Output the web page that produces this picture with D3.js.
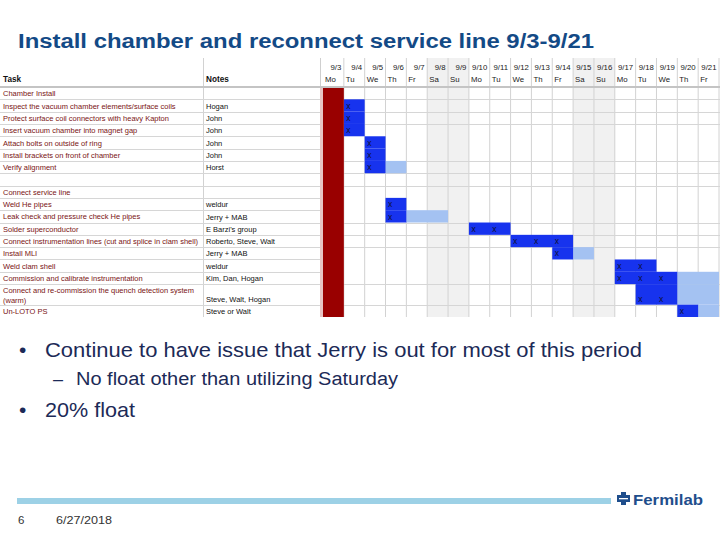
<!DOCTYPE html>
<html><head><meta charset="utf-8">
<script src="https://cdn.jsdelivr.net/npm/d3@7"></script>
<style>body{margin:0;background:#fff}svg{display:block}</style>
</head><body>
<script>
// ---- data ----
const title = "Install chamber and reconnect service line 9/3-9/21";
const tasks = ["Chamber Install","Inspect the vacuum chamber elements/surface coils","Protect surface coil connectors with heavy Kapton","Insert vacuum chamber into magnet gap","Attach bolts on outside of ring","Install brackets on front of chamber","Verify alignment","","Connect service line","Weld He pipes","Leak check and pressure check He pipes","Solder superconductor","Connect instrumentation lines (cut and splice in clam shell)","Install MLI","Weld clam shell","Commission and calibrate instrumentation","Connect and re-commission the quench detection system|(warm)","Un-LOTO PS"];
const notes = ["","Hogan","John","John","John","John","Horst","","","weldur","Jerry + MAB","E Barzi's group","Roberto, Steve, Walt","Jerry + MAB","weldur","Kim, Dan, Hogan","Steve, Walt, Hogan","Steve or Walt"];
const dates = ["9/3","9/4","9/5","9/6","9/7","9/8","9/9","9/10","9/11","9/12","9/13","9/14","9/15","9/16","9/17","9/18","9/19","9/20","9/21"];
const days = ["Mo","Tu","We","Th","Fr","Sa","Su","Mo","Tu","We","Th","Fr","Sa","Su","Mo","Tu","We","Th","Fr"];
const workStart = [null,"9/4","9/4","9/4","9/5","9/5","9/5",null,null,"9/6","9/6","9/10","9/12","9/14","9/17","9/17","9/18","9/20"];
const workDays  = [0,1,1,1,1,1,1,0,0,1,1,2,3,1,2,3,2,1];
const floatDays = [0,0,0,0,0,0,1,0,0,0,2,0,0,1,0,2,2,1];
const holiday = "9/3";
const bullets = [
  {level:1, text:"Continue to have issue that Jerry is out for most of this period"},
  {level:2, text:"No float other than utilizing Saturday"},
  {level:1, text:"20% float"}
];
const slideNumber = "6";
const slideDate = "6/27/2018";

// ---- drawing ----
const W=720,H=540;
const svg=d3.select("body").append("svg").attr("width",W).attr("height",H)
  .style("font-family","Arial, 'Liberation Sans', sans-serif");
svg.append("rect").attr("width",W).attr("height",H).attr("fill","#fff");

// title
svg.append("text").attr("x",18).attr("y",48).attr("font-size",20).attr("font-weight","bold")
  .attr("fill","#134a86").attr("textLength",576).attr("lengthAdjust","spacingAndGlyphs").text(title);

const gTop=58, hdrBot=87, gBot=317;
const x=d3.scaleBand().domain(dates).range([323,719]);
const bw=x.bandwidth();
const lines=tasks.map(t=>t.split("|"));
const units=lines.map(l=>1+0.67*(l.length-1));
const cum=[0]; units.forEach(u=>cum.push(cum[cum.length-1]+u));
const y=d3.scaleLinear().domain([0,cum[cum.length-1]]).range([hdrBot,gBot]);
const rowTop=i=>y(cum[i]), rowBot=i=>y(cum[i+1]);

const g=svg.append("g");
// weekend shading
g.selectAll(".wk").data(dates.filter((d,i)=>days[i]==="Sa"||days[i]==="Su")).join("rect")
  .attr("x",d=>x(d)).attr("y",gTop).attr("width",bw).attr("height",gBot-gTop).attr("fill","#f1f1f1");

// vertical grid lines
const vx=dates.map(d=>x(d)).concat([x(dates[dates.length-1])+bw]);
g.selectAll(".vl").data(vx.slice(1)).join("line")
  .attr("x1",d=>d).attr("x2",d=>d).attr("y1",gTop).attr("y2",gBot).attr("stroke","#d2d2d2").attr("stroke-width",1);
// table vertical line
g.append("line").attr("x1",203.5).attr("x2",203.5).attr("y1",gTop).attr("y2",gBot).attr("stroke","#d2d2d2");
g.append("line").attr("x1",320.5).attr("x2",320.5).attr("y1",gTop).attr("y2",hdrBot).attr("stroke","#cfcfcf");

// horizontal lines
const ganttSkip=new Set([4,5,9,10,14,15]);
const bounds=d3.range(1,tasks.length);
g.selectAll(".hl").data(bounds).join("line")
  .attr("x1",0).attr("x2",320).attr("y1",d=>Math.round(rowTop(d))+0.5).attr("y2",d=>Math.round(rowTop(d))+0.5)
  .attr("stroke","#d6d6d6");
g.selectAll(".hg").data(bounds.filter(b=>!ganttSkip.has(b))).join("line")
  .attr("x1",323).attr("x2",720).attr("y1",d=>Math.round(rowTop(d))+0.5).attr("y2",d=>Math.round(rowTop(d))+0.5)
  .attr("stroke","#d6d6d6");
// header line
g.append("line").attr("x1",0).attr("x2",720).attr("y1",hdrBot).attr("y2",hdrBot).attr("stroke","#c4c4c4").attr("stroke-width",2);

// bars
const idx=tasks.map((t,i)=>i).filter(i=>workStart[i]!==null);
g.selectAll(".fl").data(idx.filter(i=>floatDays[i]>0)).join("rect")
  .attr("x",i=>x(workStart[i])+bw*workDays[i]).attr("y",i=>rowTop(i)).attr("width",i=>bw*floatDays[i])
  .attr("height",i=>rowBot(i)-rowTop(i)).attr("fill","#a4c2f2");
g.selectAll(".wb").data(idx).join("rect")
  .attr("x",i=>x(workStart[i])).attr("y",i=>rowTop(i)).attr("width",i=>bw*workDays[i])
  .attr("height",i=>rowBot(i)-rowTop(i)).attr("fill","#1733ee");
// x marks
const marks=[];
idx.forEach(i=>{const s=dates.indexOf(workStart[i]);for(let k=0;k<workDays[i];k++)marks.push({i,d:dates[s+k]});});
g.selectAll(".xm").data(marks).join("text")
  .attr("x",m=>x(m.d)+2.5).attr("y",m=>rowBot(m.i)-3).attr("font-size",8.5).attr("fill","#101030").text("x");

// holiday column
g.append("rect").attr("x",320).attr("y",hdrBot+1).attr("width",3).attr("height",gBot-hdrBot-1).attr("fill","#e8c4c4");
g.append("rect").attr("x",x(holiday)).attr("y",hdrBot+1).attr("width",bw).attr("height",gBot-hdrBot-1).attr("fill","#990000");

// header texts
g.selectAll(".dt").data(dates).join("text").attr("x",d=>x(d)+bw-2.5).attr("y",69.5)
  .attr("text-anchor","end").attr("font-size",7.8).attr("fill","#1a1a1a").text(d=>d);
g.selectAll(".dy").data(days).join("text").attr("x",(d,i)=>x(dates[i])+2).attr("y",82)
  .attr("font-size",7.8).attr("fill","#1a1a1a").text(d=>d);
g.append("text").attr("x",3).attr("y",82).attr("font-size",8.2).attr("font-weight","bold").attr("fill","#111").text("Task");
g.append("text").attr("x",206).attr("y",82).attr("font-size",8.2).attr("font-weight","bold").attr("fill","#111").text("Notes");

// task texts
tasks.forEach((t,i)=>{
  const ls=lines[i];
  ls.forEach((l,j)=>{
    g.append("text").attr("x",3).attr("y",rowTop(i)+9.3+j*9.3).attr("font-size",7.5).attr("fill","#7a1414").text(l);
  });
  if(notes[i]) g.append("text").attr("x",206).attr("y",rowBot(i)-3).attr("font-size",7.5).attr("fill","#111").text(notes[i]);
});

// bullets
const by=[357,385,417];
const bl=[597,322,90];
bullets.forEach((b,k)=>{
  if(b.level===1){
    svg.append("text").attr("x",19).attr("y",by[k]).attr("font-size",21).attr("fill","#1c2a57").text("•");
    svg.append("text").attr("x",45).attr("y",by[k]).attr("font-size",21).attr("fill","#1c2a57")
      .attr("textLength",bl[k]).attr("lengthAdjust","spacingAndGlyphs").text(b.text);
  } else {
    svg.append("text").attr("x",53).attr("y",by[k]).attr("font-size",18).attr("fill","#1c2a57").text("–");
    svg.append("text").attr("x",76).attr("y",by[k]).attr("font-size",18).attr("fill","#1c2a57")
      .attr("textLength",bl[k]).attr("lengthAdjust","spacingAndGlyphs").text(b.text);
  }
});

// footer
svg.append("rect").attr("x",17).attr("y",498).attr("width",594).attr("height",6).attr("fill","#9dd1e6");
const lg=svg.append("g").attr("transform","translate(617,492)");
lg.append("path").attr("d","M4,0H9V3H13V10H9V13H4V10H0V3H4Z").attr("fill","#1f4e8c");
lg.append("rect").attr("x",2).attr("y",6).attr("width",9).attr("height",1.3).attr("fill","#fff");
svg.append("text").attr("x",633).attr("y",505).attr("font-size",15.5).attr("font-weight","bold")
  .attr("fill","#1f4e8c").attr("textLength",70).attr("lengthAdjust","spacingAndGlyphs").text("Fermilab");
svg.append("text").attr("x",18).attr("y",523.5).attr("font-size",11.5).attr("fill","#333").text(slideNumber);
svg.append("text").attr("x",56).attr("y",523.5).attr("font-size",11.5).attr("fill","#333")
  .attr("textLength",56).attr("lengthAdjust","spacingAndGlyphs").text(slideDate);
</script>
</body></html>
